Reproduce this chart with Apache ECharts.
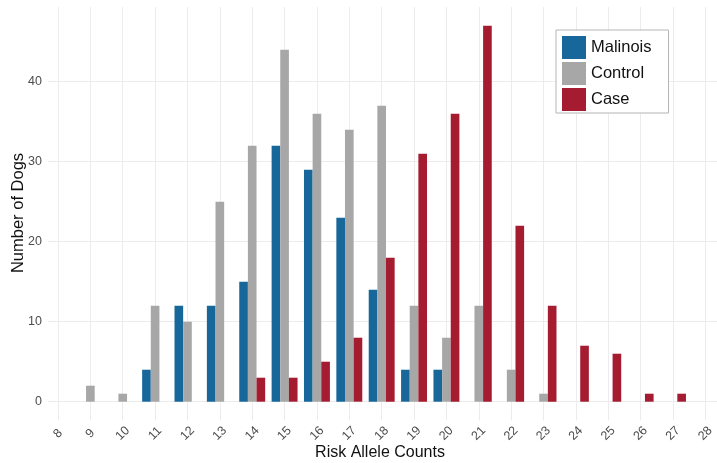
<!DOCTYPE html>
<html>
<head>
<meta charset="utf-8">
<script src="https://cdn.jsdelivr.net/npm/echarts@6/dist/echarts.min.js"></script>
<style>
html,body{margin:0;padding:0;background:#fff;}
#chart{width:717px;height:463px;}
</style>
</head>
<body>
<div id="chart"></div>
<script>
// Data
const alleleCounts = [8,9,10,11,12,13,14,15,16,17,18,19,20,21,22,23,24,25,26,27,28];
const malinois = [0,0,0,4,12,12,15,32,29,23,14,4,4,0,0,0,0,0,0,0,0];
const control  = [0,2,1,12,10,25,32,44,36,34,37,12,8,12,4,1,0,0,0,0,0];
const caseVals = [0,0,0,0,0,0,3,3,5,8,18,31,36,47,22,12,7,6,1,1,0];
const yTicks = [0,10,20,30,40];
const seriesNames = ['Malinois','Control','Case'];
const seriesColors = ['#17679a','#a7a7a8','#a51c30'];

const toPairs = arr => alleleCounts.map((x,i) => [x, arr[i]]);
const seriesData = [malinois, control, caseVals];

const chart = echarts.init(document.getElementById('chart'), null, {renderer:'canvas'});
const gridColor = '#ececec';
const font = 'Liberation Sans, Arial, Helvetica, sans-serif';

const option = {
  backgroundColor: '#ffffff',
  animation: false,
  textStyle: {fontFamily: font},
  grid: [
    {left: 58, right: 10, top: 7, bottom: 42.5, containLabel: false},
    {left: 48, right: 0, top: 81.7, bottom: 61.3, containLabel: false}
  ],
  xAxis: [
    {
      gridIndex: 0, type: 'value', min: alleleCounts[0], max: alleleCounts[alleleCounts.length-1], interval: 1,
      axisLine: {show: false}, axisTick: {show: false},
      splitLine: {show: true, lineStyle: {color: gridColor, width: 1}},
      axisLabel: {
        show: true, rotate: 45, align: 'center', verticalAlign: 'middle', margin: 13,
        color: '#4d4d4d', fontSize: 12.5, fontFamily: font,
        showMinLabel: true, showMaxLabel: true
      }
    },
    {
      gridIndex: 1, type: 'value', min: 0, max: 1, show: false
    }
  ],
  yAxis: [
    {
      gridIndex: 0, type: 'value', min: -2.35, max: 49.35, show: false,
      splitLine: {show: false}
    },
    {
      gridIndex: 1, type: 'value', min: yTicks[0], max: yTicks[yTicks.length-1], interval: 10,
      axisLine: {show: false}, axisTick: {show: false},
      splitLine: {show: true, lineStyle: {color: gridColor, width: 1}},
      axisLabel: {color: '#4d4d4d', fontSize: 12.5, margin: 6, fontFamily: font}
    }
  ],
  legend: {
    orient: 'vertical',
    left: 556, top: 30,
    icon: 'rect',
    itemWidth: 24, itemHeight: 23, itemGap: 3,
    padding: [6, 17, 2, 6],
    borderColor: '#b5b5b5', borderWidth: 1,
    backgroundColor: '#ffffff',
    data: seriesNames,
    textStyle: {color: '#111', fontSize: 16.5, fontFamily: font}
  },
  graphic: [
    {
      type: 'text', x: 380, y: 445,
      style: {text: 'Risk Allele Counts', fill: '#111', font: '16px ' + font, textAlign: 'center', textVerticalAlign: 'top'}
    },
    {
      type: 'text', x: 10, y: 213, rotation: Math.PI/2, originX: 0, originY: 0,
      style: {text: 'Number of Dogs', fill: '#111', font: '16.5px ' + font, textAlign: 'center', textVerticalAlign: 'top'}
    }
  ],
  series: seriesNames.map((name, i) => ({
    name: name,
    type: 'bar',
    xAxisIndex: 0, yAxisIndex: 0,
    barWidth: '26.7%',
    barGap: '0%',
    itemStyle: {color: seriesColors[i]},
    data: toPairs(seriesData[i])
  }))
};
chart.setOption(option);
</script>
</body>
</html>
